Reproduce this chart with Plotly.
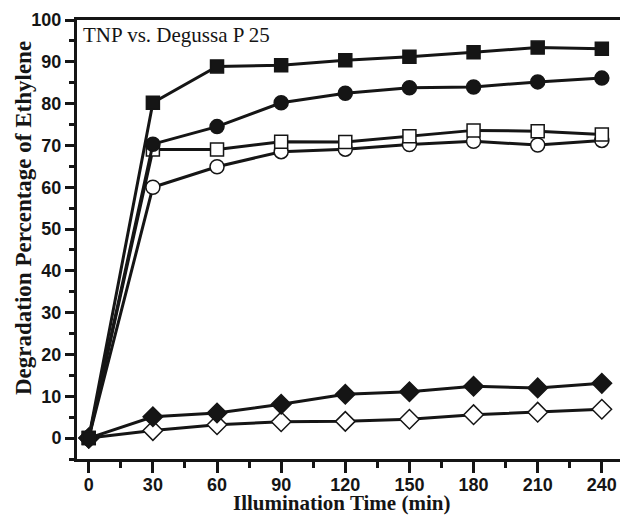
import plotly.graph_objects as go

time_min = [0, 30, 60, 90, 120, 150, 180, 210, 240]
filled_square = [0, 80.2, 88.9, 89.2, 90.4, 91.2, 92.3, 93.4, 93.1]
filled_circle = [0, 70.3, 74.5, 80.2, 82.5, 83.8, 84.0, 85.2, 86.1]
open_square = [0, 69.0, 69.0, 70.9, 70.8, 72.2, 73.6, 73.4, 72.6]
open_circle = [0, 60.0, 64.9, 68.5, 69.1, 70.2, 71.0, 70.1, 71.2]
filled_diamond = [0, 5.1, 6.0, 8.1, 10.5, 11.1, 12.4, 12.0, 13.1]
open_diamond = [0, 1.8, 3.2, 3.9, 4.0, 4.5, 5.6, 6.2, 6.9]

x_ticks = [0, 30, 60, 90, 120, 150, 180, 210, 240]
y_ticks = [0, 10, 20, 30, 40, 50, 60, 70, 80, 90, 100]

INK = "#151515"
W, H = 620, 516
ML, MR, MT, MB = 77, 0, 20, 57

series = [
    (open_diamond, "diamond", "white", 15),
    (filled_diamond, "diamond", INK, 15),
    (open_circle, "circle", "white", 14),
    (open_square, "square", "white", 13),
    (filled_circle, "circle", INK, 14),
    (filled_square, "square", INK, 13),
]

fig = go.Figure()
for ys, sym, fill, size in series:
    fig.add_trace(go.Scatter(
        x=time_min, y=ys, mode="lines+markers",
        line=dict(color=INK, width=3),
        marker=dict(symbol=sym, size=size, color=fill,
                    line=dict(color=INK, width=1.5)),
        showlegend=False, cliponaxis=False,
    ))

tick_font = dict(family="Liberation Sans", size=18, color=INK, weight="bold")
title_font_x = dict(family="Liberation Serif", size=21, color=INK, weight="bold")
title_font_y = dict(family="Liberation Serif", size=23, color=INK, weight="bold")

pw = W - ML - MR
ph = H - MT - MB

def px_to_paper_x(px):
    return (px - ML) / pw

def px_to_paper_y(py):
    return (H - MB - py) / ph

fig.update_layout(
    width=W, height=H,
    margin=dict(l=ML, r=MR, t=MT, b=MB, autoexpand=False),
    paper_bgcolor="white", plot_bgcolor="white",
    xaxis=dict(
        range=[-5.5, 248.5], tickmode="array", tickvals=x_ticks,
        ticktext=[str(v) for v in x_ticks], automargin=False,
        ticks="outside", ticklen=11, tickwidth=3, tickcolor=INK,
        ticklabelstandoff=-4,
        minor=dict(dtick=15, tick0=15, ticks="outside", ticklen=6, tickwidth=3, tickcolor=INK),
        showline=True, linewidth=3, linecolor=INK, mirror=True,
        showgrid=False, zeroline=False, tickfont=tick_font,
    ),
    yaxis=dict(
        range=[-5, 100], tickmode="array", tickvals=y_ticks,
        ticktext=[str(v) for v in y_ticks], automargin=False,
        ticks="outside", ticklen=9, tickwidth=3, tickcolor=INK,
        minor=dict(dtick=5, tick0=5, ticks="outside", ticklen=5, tickwidth=3, tickcolor=INK),
        showline=True, linewidth=3, linecolor=INK,
        showgrid=False, zeroline=False, tickfont=tick_font,
    ),
    annotations=[
        dict(text="TNP vs. Degussa P 25", xref="paper", yref="paper",
             x=px_to_paper_x(81), y=1.0, yshift=-1, xanchor="left", yanchor="top",
             showarrow=False,
             font=dict(family="Liberation Serif", size=21, color=INK)),
        dict(text="Illumination Time (min)", xref="paper", yref="paper",
             x=px_to_paper_x(341), y=px_to_paper_y(503), xanchor="center", yanchor="middle",
             showarrow=False, borderpad=0, font=title_font_x),
        dict(text="Degradation Percentage of Ethylene", xref="paper", yref="paper",
             x=px_to_paper_x(23), y=px_to_paper_y(218), xanchor="center", yanchor="middle",
             textangle=-90, showarrow=False, font=title_font_y),
    ],
)

fig.write_html(
    "out.html",
    config={"displayModeBar": False},
    post_script="document.body.style.margin='0';document.body.style.padding='0';"
                "document.documentElement.style.overflow='hidden';",
)
